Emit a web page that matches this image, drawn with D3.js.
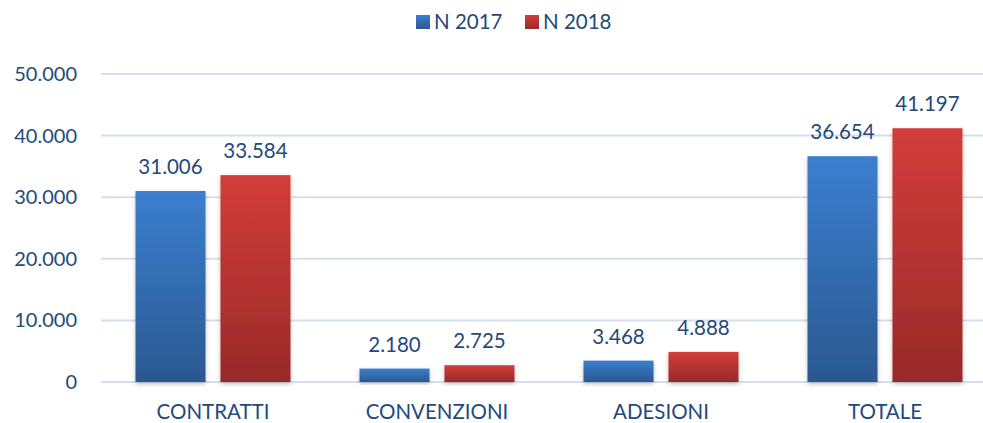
<!DOCTYPE html>
<html>
<head>
<meta charset="utf-8">
<script src="https://cdn.jsdelivr.net/npm/d3@7"></script>
<style>
  body { margin: 0; background: #fff; }
  svg { display: block; font-family: Lato, "Open Sans", sans-serif; }
</style>
</head>
<body>
<div id="chart"></div>
<script>
const categories = ["CONTRATTI", "CONVENZIONI", "ADESIONI", "TOTALE"];
const seriesNames = ["N 2017", "N 2018"];
const values2017 = [31006, 2180, 3468, 36654];
const values2018 = [33584, 2725, 4888, 41197];
const yTicks = [0, 10000, 20000, 30000, 40000, 50000];

const layout = {
  width: 983,
  height: 423,
  left: 101,
  right: 997,
  top: 74,
  bottom: 382
};

const textColor = "#24497a";
const colors = {
  "N 2017": ["#3b7fd0", "#2b5890"],
  "N 2018": ["#d33d3a", "#982a28"]
};

const rows = categories.map((c, i) => ({ cat: c, vals: [values2017[i], values2018[i]] }));

const svg = d3.select("#chart").append("svg")
  .attr("width", layout.width)
  .attr("height", layout.height);

// gradients + a soft shadow under the bars
const defs = svg.append("defs");
seriesNames.forEach((s, i) => {
  const g = defs.append("linearGradient")
    .attr("id", "grad" + i)
    .attr("x1", 0).attr("y1", 0).attr("x2", 0).attr("y2", 1);
  g.append("stop").attr("offset", "0%").attr("stop-color", colors[s][0]);
  g.append("stop").attr("offset", "100%").attr("stop-color", colors[s][1]);
});
const shadow = defs.append("filter").attr("id", "shadow")
  .attr("x", "-20%").attr("y", "-20%").attr("width", "140%").attr("height", "140%");
shadow.append("feDropShadow")
  .attr("dx", 0).attr("dy", 2).attr("stdDeviation", 2)
  .attr("flood-color", "#000").attr("flood-opacity", 0.25);

const x0 = d3.scaleBand()
  .domain(categories)
  .range([layout.left, layout.right]);

const x1 = d3.scaleBand()
  .domain(seriesNames)
  .range([0, x0.bandwidth()])
  .paddingInner(0.176)
  .paddingOuter(0.406);

const y = d3.scaleLinear()
  .domain([0, 50000])
  .range([layout.bottom, layout.top]);

const fmt = d3.formatLocale({ decimal: ",", thousands: ".", grouping: [3], currency: ["", "€"] }).format(",d");

// gridlines
svg.append("g")
  .selectAll("line")
  .data(yTicks)
  .join("line")
  .attr("x1", layout.left)
  .attr("x2", 983)
  .attr("y1", d => y(d))
  .attr("y2", d => y(d))
  .attr("stroke", "#d5dfed")
  .attr("stroke-width", 2);

// y axis labels
let yAxis = svg.append("g")
  .attr("transform", `translate(${layout.left - 24},0)`)
  .call(d3.axisLeft(y).tickValues(yTicks).tickFormat(fmt).tickSize(0).tickPadding(0));
yAxis.select(".domain").remove();
yAxis.selectAll("text")
  .attr("fill", textColor)
  .attr("font-size", 20)
  .attr("font-family", "Lato, 'Open Sans', sans-serif");

// bars
const groups = svg.append("g")
  .selectAll("g")
  .data(rows)
  .join("g")
  .attr("transform", d => `translate(${x0(d.cat)},0)`);

groups.selectAll("rect")
  .data(d => d.vals.map((v, i) => ({ s: seriesNames[i], i: i, v: v })))
  .join("rect")
  .attr("x", d => x1(d.s))
  .attr("y", d => y(d.v))
  .attr("width", x1.bandwidth())
  .attr("height", d => y(0) - y(d.v))
  .attr("fill", d => `url(#grad${d.i})`)
  .attr("filter", "url(#shadow)");

groups.selectAll("text.val")
  .data(d => d.vals.map((v, i) => ({ s: seriesNames[i], v: v })))
  .join("text")
  .attr("class", "val")
  .attr("x", d => x1(d.s) + x1.bandwidth() / 2)
  .attr("y", d => y(d.v) - 17)
  .attr("text-anchor", "middle")
  .attr("font-size", 20.5)
  .attr("fill", textColor)
  .text(d => fmt(d.v));

// x axis labels
let xAxis = svg.append("g")
  .attr("transform", `translate(0,${layout.bottom + 19})`)
  .call(d3.axisBottom(x0).tickSize(0).tickPadding(0));
xAxis.select(".domain").remove();
xAxis.selectAll("text")
  .attr("fill", textColor)
  .attr("font-size", 20.5)
  .attr("font-family", "Lato, 'Open Sans', sans-serif")
  .attr("dy", "0.9em");

// legend
const legendX = [416, 525];
const legend = svg.append("g")
  .selectAll("g")
  .data(seriesNames)
  .join("g")
  .attr("transform", (d, i) => `translate(${legendX[i]},15)`);
legend.append("rect")
  .attr("width", 14).attr("height", 14)
  .attr("fill", (d, i) => `url(#grad${i})`);
legend.append("text")
  .attr("x", 18).attr("y", 7)
  .attr("dy", "0.35em")
  .attr("font-size", 20.5)
  .attr("fill", textColor)
  .text(d => d);
</script>
</body>
</html>
